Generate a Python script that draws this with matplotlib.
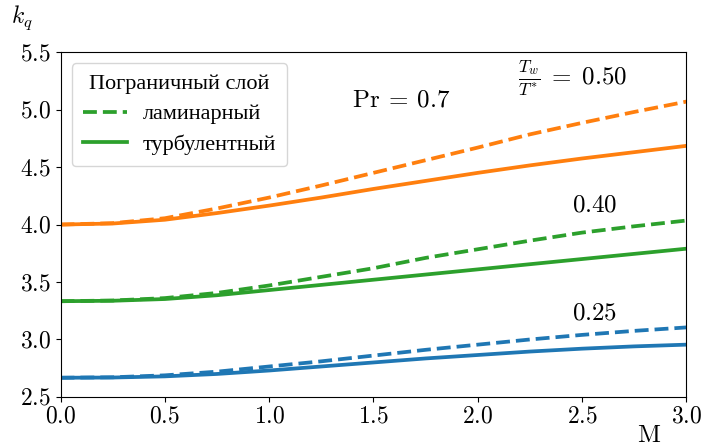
import numpy as np
import matplotlib
matplotlib.use("Agg")
import matplotlib.pyplot as plt
from matplotlib.ticker import FuncFormatter

plt.rcParams['mathtext.fontset'] = 'cm'
plt.rcParams['font.family'] = ['Liberation Serif', 'DejaVu Serif']

# число Маха
M = [0.0, 0.25, 0.5, 0.75, 1.0, 1.25, 1.5, 1.75, 2.0, 2.25, 2.5, 2.75, 3.0]

# Tw/T* = 0.25
kq_lam_025 = [2.667, 2.671, 2.688, 2.72, 2.765, 2.81, 2.86, 2.91, 2.955, 3.0, 3.04, 3.075, 3.105]
kq_turb_025 = [2.667, 2.669, 2.679, 2.70, 2.73, 2.765, 2.80, 2.835, 2.865, 2.895, 2.92, 2.94, 2.955]

# Tw/T* = 0.40
kq_lam_040 = [3.333, 3.339, 3.36, 3.405, 3.47, 3.545, 3.62, 3.71, 3.785, 3.86, 3.93, 3.985, 4.035]
kq_turb_040 = [3.333, 3.337, 3.352, 3.385, 3.43, 3.475, 3.52, 3.565, 3.61, 3.655, 3.70, 3.745, 3.79]

# Tw/T* = 0.50
kq_lam_050 = [4.0, 4.012, 4.055, 4.14, 4.235, 4.34, 4.45, 4.56, 4.67, 4.785, 4.885, 4.98, 5.07]
kq_turb_050 = [4.0, 4.009, 4.042, 4.10, 4.165, 4.235, 4.31, 4.38, 4.45, 4.515, 4.575, 4.63, 4.685]

fig = plt.figure(figsize=(7.04, 4.46), dpi=100)
ax = fig.add_axes([0.086, 0.11, 0.889, 0.773])

lw = 2.7
ax.plot(M, kq_lam_025, '--', color='C0', lw=lw)
ax.plot(M, kq_turb_025, '-', color='C0', lw=lw)
ax.plot(M, kq_lam_040, '--', color='C2', lw=lw)
ax.plot(M, kq_turb_040, '-', color='C2', lw=lw)
ax.plot(M, kq_lam_050, '--', color='C1', lw=lw)
ax.plot(M, kq_turb_050, '-', color='C1', lw=lw)

# легенда только по типу слоя
l1, = ax.plot([], [], '--', color='C2', lw=lw, label='ламинарный')
l2, = ax.plot([], [], '-', color='C2', lw=lw, label='турбулентный')
leg = ax.legend(handles=[l1, l2], title='Пограничный слой', loc='upper left',
                fontsize=16, title_fontsize=16, handlelength=2.0,
                handletextpad=0.7, borderpad=0.5, labelspacing=0.45,
                borderaxespad=0.5)

ax.set_xlim(0, 3)
ax.set_ylim(2.5, 5.5)
ax.set_xticks(np.arange(0, 3.01, 0.5))
ax.set_yticks(np.arange(2.5, 5.51, 0.5))
fmt = FuncFormatter(lambda v, p: r'$%.1f$' % v)
ax.xaxis.set_major_formatter(fmt)
ax.yaxis.set_major_formatter(fmt)
ax.tick_params(labelsize=17)

ax.text(-0.062, 1.1, r'$k_q$', transform=ax.transAxes, fontsize=17,
        ha='center', va='center')
ax.text(0.941, -0.112, r'$\mathrm{M}$', transform=ax.transAxes, fontsize=18,
        ha='center', va='center')

ax.text(1.632, 5.08, r'$\mathrm{Pr}\:=\:0.7$', fontsize=18, ha='center', va='center')
ax.text(2.455, 5.27, r'$\frac{T_w}{T^{*}}\;=\;0.50$', fontsize=18, ha='center', va='center')
ax.text(2.56, 4.165, r'$0.40$', fontsize=18, ha='center', va='center')
ax.text(2.56, 3.226, r'$0.25$', fontsize=18, ha='center', va='center')

fig.savefig('out.png', dpi=100)
